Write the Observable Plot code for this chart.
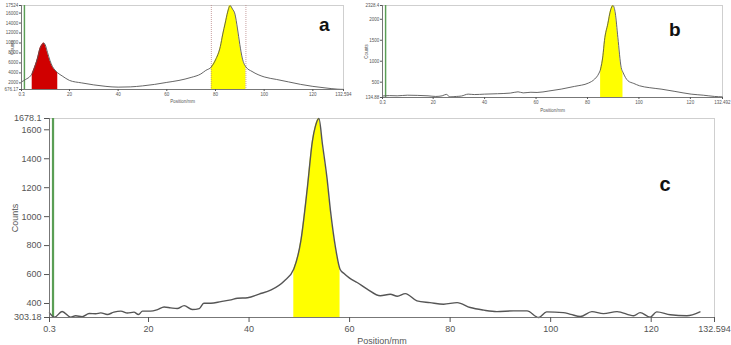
<!DOCTYPE html>
<html><head><meta charset="utf-8">
<script src="https://cdn.jsdelivr.net/npm/d3@7"></script>
<script src="https://cdn.jsdelivr.net/npm/@observablehq/plot@0.6"></script>
<style>
body{margin:0;background:#fff;}
#wrap{position:relative;width:731px;height:345px;overflow:hidden;background:#fff;}
#wrap svg{position:absolute;}
</style></head><body><div id="wrap"></div>
<script>
// ---- Panel a ----
const aPos = [0.3,2,4,4.7,5.8,6.8,7.9,9,9.5,10,11,12,13,14,15.2,17,20,25,30,35,40,45,50,55,60,65,70,74,76,78.3,80,82,83,84,85,86,87,88,89,90,91,92.5,95,100,105,110,115,120,125,130,132.5];
const aCounts = [2200,2700,3400,3900,5300,6800,8900,9800,10000,9700,8100,6500,5300,4600,4000,3400,2500,2000,1600,1300,1150,1200,1400,1700,2100,2500,3100,3800,4500,5200,6600,9300,11800,14000,16200,17500,16800,15800,13000,9700,7000,5200,4300,3200,2700,2200,1700,1300,1000,750,700];
const aXTicks = [0.3,20,40,60,80,100,120,132.594];
const aYTicks = [676.17,2000,4000,6000,8000,10000,12000,14000,16000,17524];
const aRed = [4.7,15.2];
const aYellow = [78.3,92.5];

// ---- Panel b ----
const bPos = [0.3,3,6,10,14,18,21,23.5,25.1,26.5,29,31,33.6,36,40,45,50,53,55,58,60.4,65,69.8,75,80.4,82.8,84.3,85.1,86,86.6,87.9,89,89.9,90.8,91.8,93.1,93.8,95.7,98,100.2,104,108.6,114,120.3,125,129.4,132.4];
const bCounts = [170,180,175,190,185,175,160,175,210,150,160,170,215,205,215,225,240,270,245,260,255,290,335,400,480,575,695,815,1130,1490,1890,2220,2328,2150,1570,850,735,535,470,415,370,335,280,215,190,160,150];
const bXTicks = [0.3,20,40,60,80,100,120,132.492];
const bYTicks = [134.88,500,1000,1500,2000,2328.4];
const bYellow = [85.1,93.8];

// ---- Panel c ----
const cPos = [0.3,1.3,2.8,4.5,5.5,6.8,8.2,9.5,10.5,11.8,13.1,14.5,15.8,17.1,18,18.8,20.4,21.8,23.1,24.4,25.7,27.1,28.7,30.1,31,32.4,34.4,36.4,37.7,39.7,42,44.4,47,48.9,50.3,51.6,52.6,53.2,53.9,54.6,55.5,56.2,57.2,58.1,58.9,60,61.5,63.5,66.1,68.1,69.5,71.1,73.4,76,78.7,81.4,84,86.7,89.3,92.6,95.3,97.6,99.2,102.5,104,105.9,108.2,110.5,113.2,116.5,117.8,119.8,121.1,123.8,127.1,129.7];
const cCounts = [335,305,345,306,315,309,331,329,335,324,340,347,334,340,324,347,347,358,376,370,365,385,358,365,402,402,413,425,436,440,465,494,556,639,832,1200,1522,1625,1678,1500,1268,1040,786,637,607,575,545,499,453,464,450,468,418,406,395,406,372,354,344,349,349,303,342,337,325,310,344,330,344,315,337,305,342,322,315,342];
const cXTicks = [0.3,20,40,60,80,100,120,132.594];
const cYTicks = [303.18,400,600,800,1000,1200,1400,1600,1678.1];
const cYellow = [48.9,58.1];

const zip = (xs, ys) => xs.map((x, i) => ({x, y: ys[i]}));
const within = (data, [lo, hi]) => data.filter(d => d.x >= lo && d.x <= hi);
const FONT = "'Liberation Sans',Arial,sans-serif";
const GREEN = "#5a9e55";
const CURVE = "monotone-x";

function panel({data, xTicks, yTicks, fills, dotted, letter, width, height, margins, fs, tick, lw, labelOffX, labelOffY, letterDx, letterDy, letterSize, greenX}) {
  const xd = [xTicks[0], xTicks[xTicks.length - 1]];
  const yd = [yTicks[0], yTicks[yTicks.length - 1]];
  const marks = [
    Plot.frame({stroke: "#cfcfcf", strokeWidth: 1}),
    ...fills.map(([rng, color]) => Plot.areaY(within(data, rng), {x: "x", y1: yd[0], y2: "y", fill: color, curve: CURVE})),
    ...(dotted ? [Plot.ruleX(dotted, {stroke: "#b88", strokeDasharray: "1,1", strokeWidth: 0.8})] : []),
    Plot.ruleX([greenX], {stroke: GREEN, strokeWidth: lw * 1.6}),
    Plot.lineY(data, {x: "x", y: "y", stroke: "#555", strokeWidth: lw, curve: CURVE}),
    Plot.ruleY([yd[0]], {stroke: "#777", strokeWidth: 1}),
    Plot.ruleX([xd[0]], {stroke: "#777", strokeWidth: 1}),
    Plot.axisX({ticks: xTicks, tickFormat: d => String(d), tickSize: tick, tickPadding: tick * 0.6, fontSize: fs, color: "#555",
      label: "Position/mm", labelAnchor: "center", labelOffset: labelOffX, labelArrow: "none"}),
    Plot.axisY({ticks: yTicks, tickFormat: d => String(d), tickSize: tick, tickPadding: tick * 0.6, fontSize: fs, color: "#555",
      label: "Counts", labelAnchor: "center", labelOffset: labelOffY, labelArrow: "none"}),
    Plot.text([letter], {frameAnchor: "top-right", text: d => d, dx: letterDx, dy: letterDy, fontSize: letterSize, fontWeight: "bold", fill: "#111", fontFamily: "'Liberation Sans',Arial,sans-serif"})
  ];
  return Plot.plot({
    width, height, ...margins,
    style: {fontFamily: FONT, background: "transparent", overflow: "visible"},
    x: {domain: xd, axis: null},
    y: {domain: yd, axis: null},
    marks
  });
}

const wrap = document.getElementById("wrap");

const pa = panel({
  data: zip(aPos, aCounts), xTicks: aXTicks, yTicks: aYTicks,
  fills: [[aRed, "#d00000"], [aYellow, "#ffff00"]], dotted: aYellow, letter: "a",
  width: 360, height: 108, margins: {marginLeft: 21, marginRight: 17, marginTop: 5, marginBottom: 19},
  fs: 4.5, tick: 2, lw: 0.9, labelOffX: 13, labelOffY: 11, letterDx: -14, letterDy: 12, letterSize: 19, greenX: 1.5
});
pa.style.left = "0px"; pa.style.top = "0px";

const pb = panel({
  data: zip(bPos, bCounts), xTicks: bXTicks, yTicks: bYTicks,
  fills: [[bYellow, "#ffff00"]], dotted: null, letter: "b",
  width: 371, height: 113, margins: {marginLeft: 22, marginRight: 9, marginTop: 5, marginBottom: 16},
  fs: 4.5, tick: 2, lw: 0.9, labelOffX: 14, labelOffY: 18, letterDx: -42, letterDy: 17, letterSize: 19, greenX: 1.5
});
pb.style.left = "360px"; pb.style.top = "0px";

const pc = panel({
  data: zip(cPos, cCounts), xTicks: cXTicks, yTicks: cYTicks,
  fills: [[cYellow, "#ffff00"]], dotted: null, letter: "c",
  width: 731, height: 245, margins: {marginLeft: 49, marginRight: 17, marginTop: 18, marginBottom: 28},
  fs: 9, tick: 5, lw: 1.4, labelOffX: 26, labelOffY: 38, letterDx: -44, letterDy: 58, letterSize: 20, greenX: 1.0
});
pc.style.left = "0px"; pc.style.top = "100px";

wrap.append(pa, pb, pc);
</script></body></html>
